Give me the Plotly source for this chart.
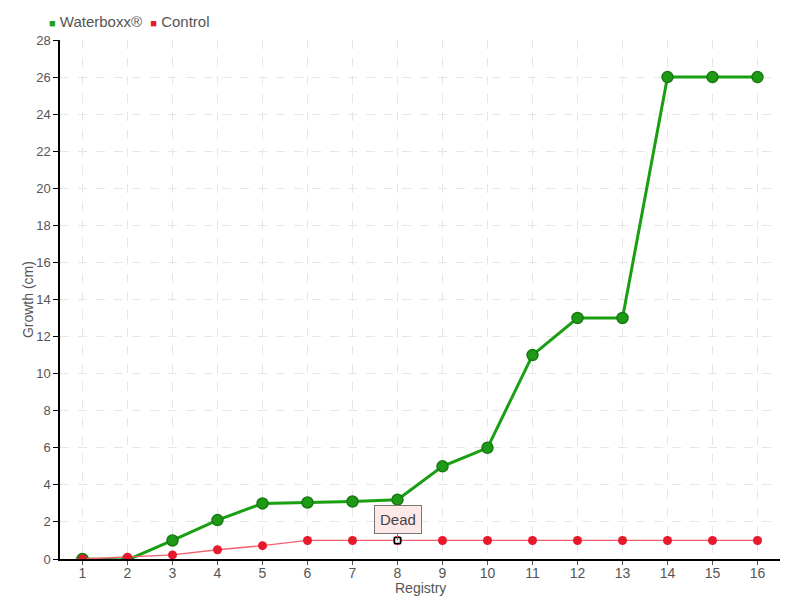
import plotly.graph_objects as go

registry = list(range(1, 17))
waterboxx = [0, -0.05, 1, 2.1, 3, 3.05, 3.1, 3.2, 5, 6, 11, 13, 13, 26, 26, 26]
control = [0, 0.1, 0.22, 0.5, 0.72, 1, 1, 1, 1, 1, 1, 1, 1, 1, 1, 1]
y_ticks = list(range(0, 29, 2))
dead_index = 7

font_family = "Liberation Sans, sans-serif"
green = "#1f9a16"
red = "#e8192c"

fig = go.Figure()
fig.add_trace(go.Scatter(
    x=registry, y=waterboxx, name="Waterboxx®", mode="lines+markers", showlegend=False,
    line=dict(color="#1a9e12", width=3),
    marker=dict(color=green, size=11, line=dict(color="#167a10", width=1.5)),
))
fig.add_trace(go.Scatter(
    x=registry, y=control, name="Control", mode="lines+markers", showlegend=False,
    line=dict(color="#f2606e", width=1.3),
    marker=dict(color=red, size=9, line=dict(width=0)),
))
fig.add_trace(go.Scatter(
    x=[registry[dead_index]], y=[control[dead_index]], mode="markers", showlegend=False,
    marker=dict(symbol="square", color="white", size=6, line=dict(color="black", width=1.5)),
    hoverinfo="skip",
))

# compact legend
fig.add_annotation(
    xref="paper", yref="paper", x=-0.018, y=1.0, xanchor="left", yanchor="bottom", yshift=8,
    showarrow=False, align="left",
    text=("<span style='color:#22a01a;font-size:11px'>■</span> Waterboxx®  "
          "<span style='color:#e8192c;font-size:11px'>■</span> Control"),
    font=dict(family=font_family, size=15, color="#555"),
)

# axis titles
fig.add_annotation(
    xref="paper", yref="paper", x=0.5, y=-0.055, xanchor="center", yanchor="middle",
    showarrow=False, text="Registry", font=dict(family=font_family, size=14, color="#555"),
)
fig.add_annotation(
    xref="paper", yref="paper", x=-0.045, y=0.5, xanchor="center", yanchor="middle",
    showarrow=False, text="Growth (cm)", textangle=-90,
    font=dict(family=font_family, size=14, color="#555"),
)

fig.add_annotation(
    x=registry[dead_index], y=control[dead_index], text="Dead",
    showarrow=True, arrowhead=0, arrowwidth=1, arrowcolor="#777",
    ax=0, ay=-21, bgcolor="#fde8e8", bordercolor="#777", borderwidth=1, borderpad=5,
    font=dict(family=font_family, size=15, color="#444"),
)

fig.update_layout(
    width=800, height=600,
    margin=dict(l=60, r=20, t=40, b=41, autoexpand=False),
    plot_bgcolor="white", paper_bgcolor="white",
    font=dict(family=font_family, size=14, color="#555"),
    showlegend=False,
    xaxis=dict(
        range=[0.5, 16.5], tickmode="array", tickvals=registry, ticktext=[str(r) for r in registry],
        showgrid=True, gridcolor="#e6e6e6", griddash="dash", gridwidth=1,
        showline=True, linecolor="black", linewidth=1.5,
        ticks="outside", ticklen=4, tickcolor="#555", automargin=False,
        ticklabelstandoff=-4, zeroline=False, tickfont=dict(size=14),
    ),
    yaxis=dict(
        range=[0, 28], tickmode="array", tickvals=y_ticks,
        showgrid=True, gridcolor="#e6e6e6", griddash="dash", gridwidth=1,
        showline=True, linecolor="black", linewidth=1.5,
        ticks="outside", ticklen=5, tickcolor="black", automargin=False,
        zeroline=False, tickfont=dict(size=13),
    ),
)

fig.write_html("out.html", config={"displayModeBar": False},
               post_script="document.body.style.margin='0';")
